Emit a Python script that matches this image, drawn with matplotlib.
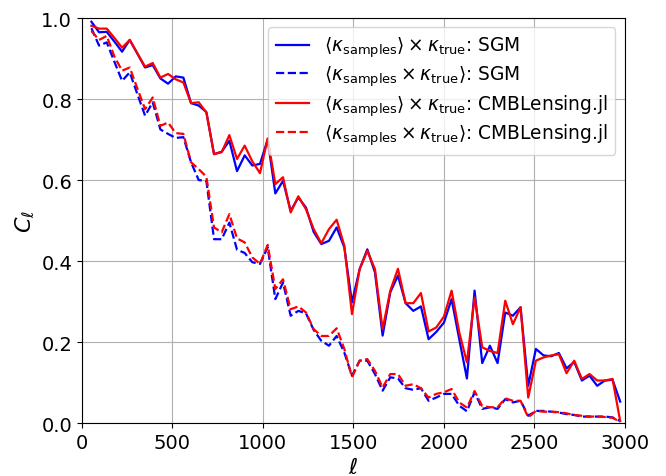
import numpy as np
import matplotlib
matplotlib.use("Agg")
import matplotlib.pyplot as plt

# Bin centres in ell (70 bins)
ell = np.linspace(52.5, 2975, 70)

# <kappa_samples> x kappa_true, SGM
sgm_mean_cross = [
    0.991, 0.965, 0.966, 0.942, 0.917, 0.946, 0.912, 0.878, 0.884, 0.851,
    0.838, 0.856, 0.853, 0.790, 0.784, 0.768, 0.664, 0.670, 0.697, 0.622,
    0.661, 0.636, 0.640, 0.700, 0.567, 0.598, 0.524, 0.557, 0.532, 0.472,
    0.442, 0.450, 0.483, 0.434, 0.298, 0.380, 0.429, 0.372, 0.216, 0.323,
    0.364, 0.296, 0.277, 0.288, 0.207, 0.225, 0.248, 0.306, 0.207, 0.110,
    0.327, 0.148, 0.191, 0.148, 0.273, 0.265, 0.286, 0.092, 0.183, 0.167,
    0.165, 0.173, 0.135, 0.151, 0.105, 0.117, 0.092, 0.105, 0.107, 0.053,
]

# <kappa_samples x kappa_true>, SGM
sgm_cross_mean = [
    0.975, 0.932, 0.940, 0.892, 0.845, 0.866, 0.812, 0.759, 0.792, 0.725,
    0.714, 0.704, 0.706, 0.644, 0.600, 0.598, 0.454, 0.454, 0.495, 0.428,
    0.420, 0.397, 0.393, 0.434, 0.306, 0.347, 0.265, 0.277, 0.271, 0.230,
    0.203, 0.191, 0.215, 0.174, 0.117, 0.154, 0.154, 0.121, 0.080, 0.113,
    0.110, 0.086, 0.082, 0.086, 0.055, 0.063, 0.072, 0.072, 0.043, 0.029,
    0.076, 0.035, 0.039, 0.035, 0.059, 0.051, 0.055, 0.018, 0.030, 0.030,
    0.028, 0.026, 0.022, 0.020, 0.016, 0.016, 0.016, 0.016, 0.014, 0.005,
]

# <kappa_samples> x kappa_true, CMBLensing.jl
cmbl_mean_cross = [
    0.981, 0.974, 0.974, 0.951, 0.927, 0.946, 0.913, 0.880, 0.889, 0.853,
    0.862, 0.849, 0.841, 0.790, 0.792, 0.767, 0.664, 0.669, 0.711, 0.652,
    0.685, 0.646, 0.617, 0.703, 0.590, 0.607, 0.520, 0.560, 0.528, 0.479,
    0.444, 0.479, 0.502, 0.438, 0.269, 0.380, 0.425, 0.380, 0.232, 0.327,
    0.381, 0.296, 0.296, 0.321, 0.226, 0.236, 0.263, 0.327, 0.224, 0.150,
    0.310, 0.187, 0.178, 0.173, 0.302, 0.244, 0.286, 0.063, 0.154, 0.162,
    0.167, 0.170, 0.123, 0.154, 0.109, 0.121, 0.105, 0.105, 0.109, 0.005,
]

# <kappa_samples x kappa_true>, CMBLensing.jl
cmbl_cross_mean = [
    0.968, 0.946, 0.956, 0.905, 0.870, 0.878, 0.826, 0.775, 0.804, 0.734,
    0.742, 0.716, 0.714, 0.644, 0.627, 0.608, 0.483, 0.471, 0.516, 0.456,
    0.446, 0.409, 0.393, 0.440, 0.331, 0.355, 0.281, 0.288, 0.273, 0.232,
    0.215, 0.215, 0.234, 0.183, 0.113, 0.154, 0.158, 0.129, 0.088, 0.121,
    0.121, 0.092, 0.096, 0.086, 0.063, 0.072, 0.076, 0.084, 0.051, 0.038,
    0.079, 0.042, 0.039, 0.039, 0.061, 0.055, 0.055, 0.014, 0.030, 0.028,
    0.028, 0.027, 0.024, 0.020, 0.018, 0.016, 0.016, 0.015, 0.013, 0.003,
]

labels = [
    r"$\langle\kappa_{\rm samples}\rangle\times\kappa_{\rm true}$: SGM",
    r"$\langle\kappa_{\rm samples}\times\kappa_{\rm true}\rangle$: SGM",
    r"$\langle\kappa_{\rm samples}\rangle\times\kappa_{\rm true}$: CMBLensing.jl",
    r"$\langle\kappa_{\rm samples}\times\kappa_{\rm true}\rangle$: CMBLensing.jl",
]

fig = plt.figure(figsize=(6.66, 4.77), dpi=100)
ax = fig.add_axes([0.123, 0.111, 0.815, 0.849])

ax.plot(ell, sgm_mean_cross, color="blue", lw=1.6, label=labels[0])
ax.plot(ell, sgm_cross_mean, color="blue", lw=1.6, ls="--", label=labels[1])
ax.plot(ell, cmbl_mean_cross, color="red", lw=1.6, label=labels[2])
ax.plot(ell, cmbl_cross_mean, color="red", lw=1.6, ls="--", label=labels[3])

ax.set_xlim(0, 3000)
ax.set_ylim(0, 1)
ax.set_xlabel(r"$\ell$", fontsize=16)
ax.set_ylabel(r"$C_\ell$", fontsize=16)
ax.tick_params(labelsize=14)
ax.grid(True)
ax.legend(loc="upper right", fontsize=13.4, handlelength=1.8,
          labelspacing=0.22)

fig.savefig("out.png")
